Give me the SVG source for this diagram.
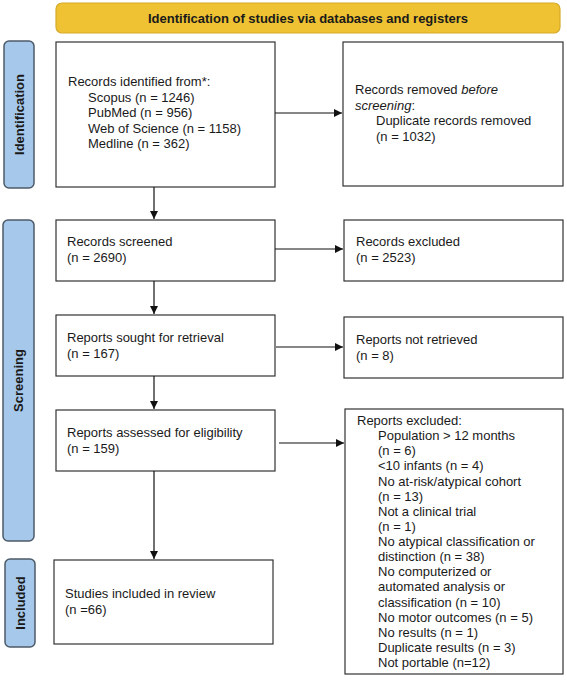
<svg xmlns="http://www.w3.org/2000/svg" width="567" height="685" viewBox="0 0 567 685">
<style>
text{font-family:"Liberation Sans",Arial,sans-serif;font-size:13px;fill:#1a1a1a}
.box{fill:#fff;stroke:#333;stroke-width:1.2}
.side{fill:#a6c8ea;stroke:#4d5b69;stroke-width:1.5}
.lbl{font-weight:bold;text-anchor:middle}
.conn{stroke:#111;stroke-width:1.2;fill:none;marker-end:url(#ah)}
</style>
<defs>
<marker id="ah" viewBox="0 0 10 10" refX="10" refY="5" markerWidth="8" markerHeight="8" markerUnits="userSpaceOnUse" orient="auto">
<path d="M0,0 L10,5 L0,10 z" fill="#111"/>
</marker>
</defs>
<g id="header">
<rect x="56" y="3" width="504" height="30" rx="6" fill="#eec232" stroke="#d6aa2a" stroke-width="1.2"/>
<text x="308" y="22.5" class="lbl">Identification of studies via databases and registers</text>
</g>
<g id="side-identification">
<rect class="side" x="4" y="41" width="30" height="147" rx="5"/>
<text class="lbl" transform="translate(23.5,114.5) rotate(-90)">Identification</text>
</g>
<g id="side-screening">
<rect class="side" x="3" y="220" width="31" height="321" rx="5"/>
<text class="lbl" transform="translate(23,380.5) rotate(-90)">Screening</text>
</g>
<g id="side-included">
<rect class="side" x="5" y="559" width="30" height="88" rx="5"/>
<text class="lbl" transform="translate(24.5,603) rotate(-90)">Included</text>
</g>
<g id="n-identified">
<rect class="box" x="56" y="42" width="219" height="145"/>
<text x="68" y="86">Records identified from*:</text>
<text x="88" y="101.5">Scopus (n = 1246)</text>
<text x="88" y="117">PubMed (n = 956)</text>
<text x="88" y="132.5">Web of Science (n = 1158)</text>
<text x="88" y="148">Medline (n = 362)</text>
</g>
<g id="n-removed">
<rect class="box" x="343" y="42" width="220" height="144"/>
<text x="355" y="94">Records removed <tspan font-style="italic">before</tspan></text>
<text x="355" y="109.5"><tspan font-style="italic">screening</tspan>:</text>
<text x="376" y="125">Duplicate records removed</text>
<text x="376" y="140.5">(n = 1032)</text>
</g>
<g id="n-screened">
<rect class="box" x="56" y="220" width="219" height="61"/>
<text x="67" y="246">Records screened</text>
<text x="67" y="261.5">(n = 2690)</text>
</g>
<g id="n-excluded">
<rect class="box" x="344" y="220" width="219" height="61"/>
<text x="356" y="246">Records excluded</text>
<text x="356" y="261.5">(n = 2523)</text>
</g>
<g id="n-sought">
<rect class="box" x="56" y="315" width="219" height="61"/>
<text x="67" y="342">Reports sought for retrieval</text>
<text x="67" y="357.5">(n = 167)</text>
</g>
<g id="n-notretrieved">
<rect class="box" x="344" y="317" width="219" height="61"/>
<text x="356" y="344">Reports not retrieved</text>
<text x="356" y="359.5">(n = 8)</text>
</g>
<g id="n-assessed">
<rect class="box" x="56" y="410" width="219" height="61"/>
<text x="67" y="437">Reports assessed for eligibility</text>
<text x="67" y="452.5">(n = 159)</text>
</g>
<g id="n-reportsexcluded">
<rect class="box" x="345" y="409" width="218" height="265"/>
<text x="357" y="425">Reports excluded:</text>
<text x="378" y="440.1">Population &gt; 12 months</text>
<text x="378" y="455.3">(n = 6)</text>
<text x="378" y="470.4">&lt;10 infants (n = 4)</text>
<text x="378" y="485.5">No at-risk/atypical cohort</text>
<text x="378" y="500.6">(n = 13)</text>
<text x="378" y="515.8">Not a clinical trial</text>
<text x="378" y="530.9">(n = 1)</text>
<text x="378" y="546">No atypical classification or</text>
<text x="378" y="561.1">distinction (n = 38)</text>
<text x="378" y="576.3">No computerized or</text>
<text x="378" y="591.4">automated analysis or</text>
<text x="378" y="606.5">classification (n = 10)</text>
<text x="378" y="621.6">No motor outcomes (n = 5)</text>
<text x="378" y="636.8">No results (n = 1)</text>
<text x="378" y="651.9">Duplicate results (n = 3)</text>
<text x="378" y="667">Not portable (n=12)</text>
</g>
<g id="n-included">
<rect class="box" x="54" y="560" width="219" height="84"/>
<text x="65" y="598">Studies included in review</text>
<text x="65" y="613.5">(n =66)</text>
</g>
<g id="connectors">
<line class="conn" x1="275" y1="113" x2="342" y2="113"/>
<line class="conn" x1="154" y1="187" x2="154" y2="219"/>
<line class="conn" x1="275" y1="249" x2="343" y2="249"/>
<line class="conn" x1="154" y1="281" x2="154" y2="314"/>
<line class="conn" x1="276" y1="347" x2="343" y2="347"/>
<line class="conn" x1="154" y1="376" x2="154" y2="409"/>
<line class="conn" x1="279" y1="443" x2="344" y2="443"/>
<line class="conn" x1="154" y1="471" x2="154" y2="559"/>
</g>
</svg>
